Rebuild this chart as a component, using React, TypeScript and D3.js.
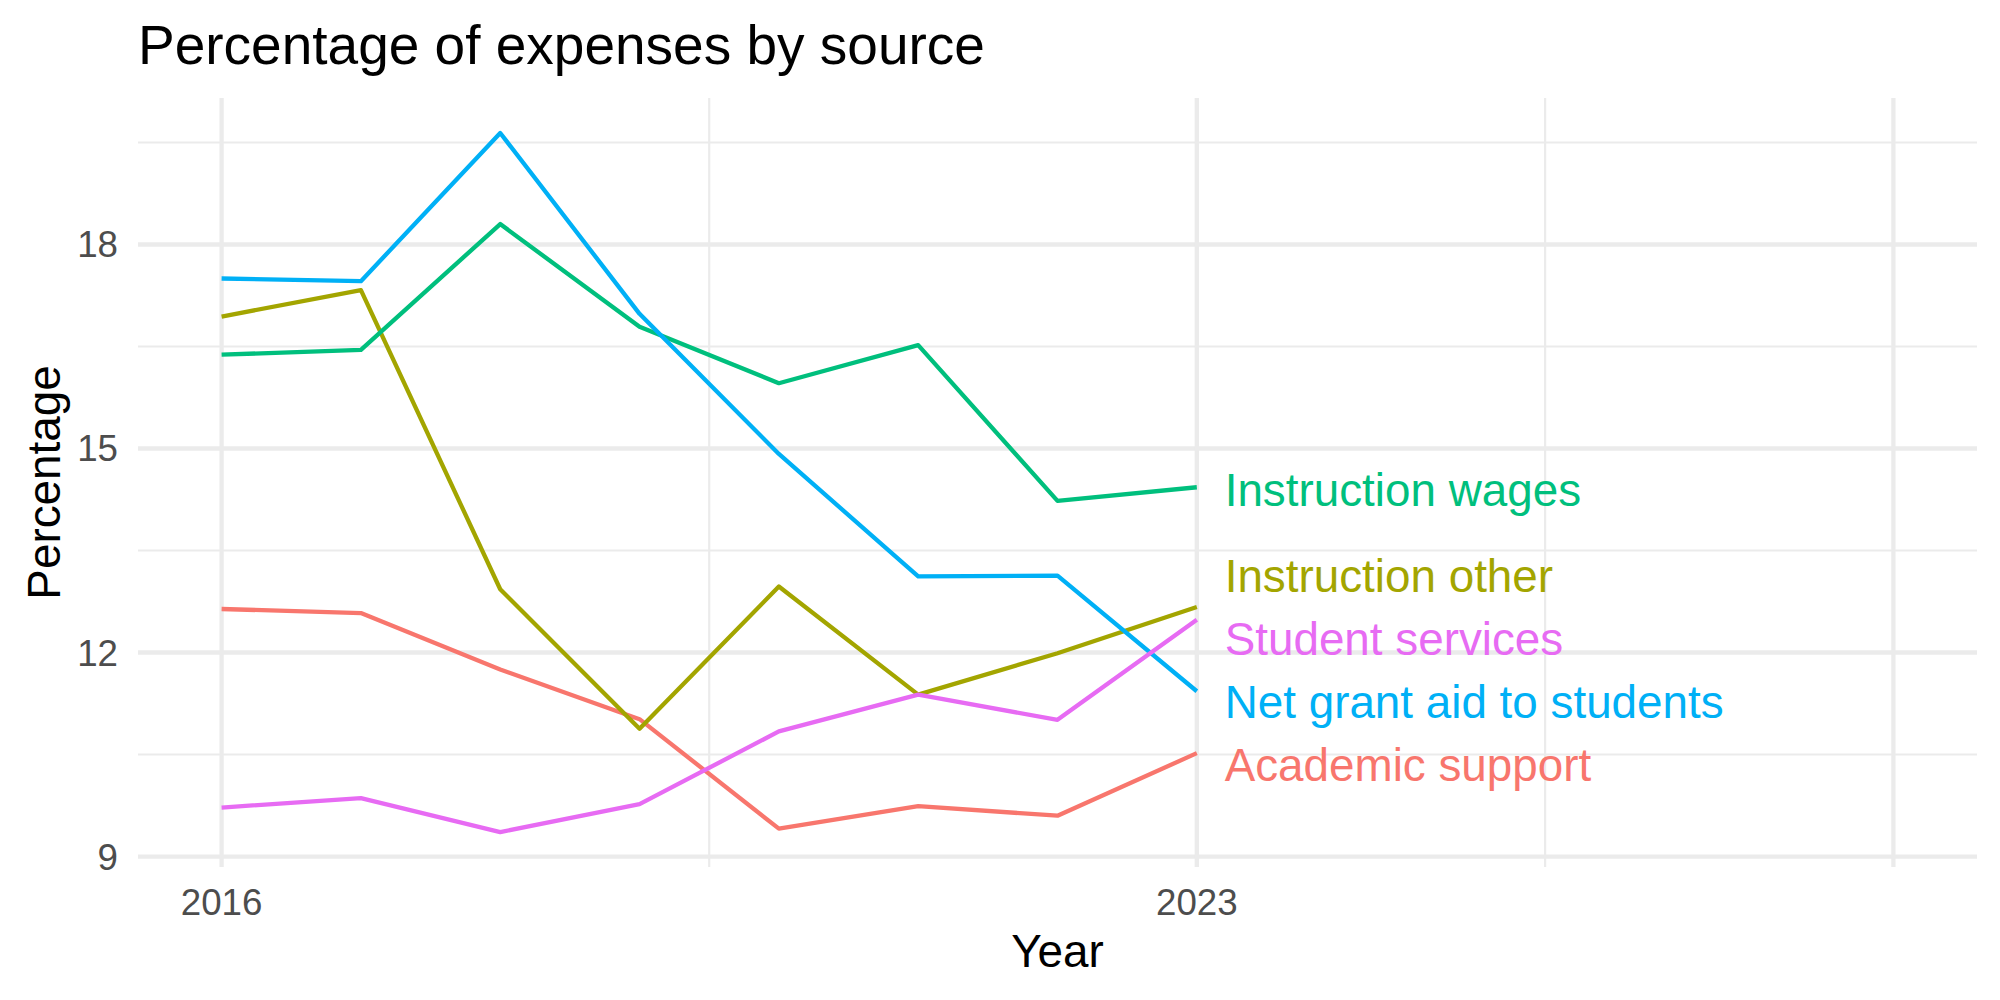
import React, { useRef, useEffect } from "react";
import * as d3 from "d3";

// years on the x axis
const years = [2016, 2017, 2018, 2019, 2020, 2021, 2022, 2023];

// series values (percent of expenses)
const academicSupport = [12.64, 12.58, 11.75, 11.02, 9.41, 9.74, 9.6, 10.52];
const instructionOther = [16.94, 17.33, 12.93, 10.88, 12.97, 11.38, 11.99, 12.67];
const instructionWages = [16.38, 16.45, 18.3, 16.79, 15.96, 16.52, 14.23, 14.43];
const netGrantAid = [17.5, 17.46, 19.64, 16.98, 14.92, 13.12, 13.13, 11.43];
const studentServices = [9.72, 9.86, 9.36, 9.77, 10.84, 11.38, 11.01, 12.48];

const seriesNames = [
  "Academic support",
  "Instruction other",
  "Instruction wages",
  "Net grant aid to students",
  "Student services",
];

// axis breaks
const xLimits = [2016, 2028];
const xBreaks = [2016, 2023, 2028];
const xLabels = ["2016", "2023", ""];
const xMinorBreaks = [2019.5, 2025.5];
const yBreaks = [9, 12, 15, 18];
const yMinorBreaks = [10.5, 13.5, 16.5, 19.5];

const App: React.FC = () => {
  const chartRef = useRef<SVGSVGElement | null>(null);

  useEffect(() => {
    if (!chartRef.current) return;
    d3.select(chartRef.current).selectAll("*").remove();

    const width = 2000;
    const height = 1000;
    const panel = { left: 138, right: 1977, top: 98, bottom: 867 };
    const font = "'Liberation Sans', Arial, Helvetica, sans-serif";

    const colors = ["#F8766D", "#A3A500", "#00BF7D", "#00B0F6", "#E76BF3"];
    const values = [
      academicSupport,
      instructionOther,
      instructionWages,
      netGrantAid,
      studentServices,
    ];
    const series = seriesNames.map((name, i) => ({
      name,
      color: colors[i],
      points: years.map((yr, j) => ({ year: yr, value: values[i][j] })),
    }));

    // ggplot-like 5% expansion
    const xPad = (xLimits[1] - xLimits[0]) * 0.05;
    const x = d3
      .scaleLinear()
      .domain([xLimits[0] - xPad, xLimits[1] + xPad])
      .range([panel.left, panel.right]);

    const allVals = values.flat();
    const yMin = d3.min(allVals)!;
    const yMax = d3.max(allVals)!;
    const yPad = (yMax - yMin) * 0.05;
    const y = d3
      .scaleLinear()
      .domain([yMin - yPad, yMax + yPad])
      .range([panel.bottom, panel.top]);

    const svg = d3
      .select(chartRef.current)
      .attr("width", width)
      .attr("height", height)
      .style("font-family", font);

    svg.append("rect").attr("width", width).attr("height", height).attr("fill", "#FFFFFF");

    const grid = svg.append("g");

    // minor gridlines
    grid
      .selectAll(".h-minor")
      .data(yMinorBreaks)
      .enter()
      .append("line")
      .attr("x1", panel.left)
      .attr("x2", panel.right)
      .attr("y1", (d) => y(d))
      .attr("y2", (d) => y(d))
      .attr("stroke", "#EBEBEB")
      .attr("stroke-width", 2.2);

    grid
      .selectAll(".v-minor")
      .data(xMinorBreaks)
      .enter()
      .append("line")
      .attr("x1", (d) => x(d))
      .attr("x2", (d) => x(d))
      .attr("y1", panel.top)
      .attr("y2", panel.bottom)
      .attr("stroke", "#EBEBEB")
      .attr("stroke-width", 2.2);

    // major gridlines
    grid
      .selectAll(".h-major")
      .data(yBreaks)
      .enter()
      .append("line")
      .attr("x1", panel.left)
      .attr("x2", panel.right)
      .attr("y1", (d) => y(d))
      .attr("y2", (d) => y(d))
      .attr("stroke", "#EBEBEB")
      .attr("stroke-width", 4.3);

    grid
      .selectAll(".v-major")
      .data(xBreaks)
      .enter()
      .append("line")
      .attr("x1", (d) => x(d))
      .attr("x2", (d) => x(d))
      .attr("y1", panel.top)
      .attr("y2", panel.bottom)
      .attr("stroke", "#EBEBEB")
      .attr("stroke-width", 4.3);

    // lines
    const line = d3
      .line<{ year: number; value: number }>()
      .x((d) => x(d.year))
      .y((d) => y(d.value));

    svg
      .selectAll(".series")
      .data(series)
      .enter()
      .append("path")
      .attr("d", (d) => line(d.points))
      .attr("fill", "none")
      .attr("stroke", (d) => d.color)
      .attr("stroke-width", 4.3)
      .attr("stroke-linejoin", "round");

    // end labels, pushed apart so they don't overlap
    const gap = 63;
    const items = series
      .map((s) => ({
        name: s.name,
        color: s.color,
        target: y(s.points[s.points.length - 1].value),
        pos: 0,
      }))
      .sort((a, b) => a.target - b.target);
    let clusters = items.map((it) => ({ members: [it], center: it.target }));
    let merged = true;
    while (merged) {
      merged = false;
      for (let i = 0; i < clusters.length - 1; i++) {
        const a = clusters[i];
        const b = clusters[i + 1];
        const aBottom = a.center + ((a.members.length - 1) / 2) * gap;
        const bTop = b.center - ((b.members.length - 1) / 2) * gap;
        if (bTop - aBottom < gap) {
          const members = a.members.concat(b.members);
          const center = d3.mean(members, (m) => m.target)!;
          clusters.splice(i, 2, { members, center });
          merged = true;
          break;
        }
      }
    }
    clusters.forEach((c) => {
      c.members.forEach((m, k) => {
        m.pos = c.center + (k - (c.members.length - 1) / 2) * gap;
      });
    });

    svg
      .selectAll(".end-label")
      .data(items)
      .enter()
      .append("text")
      .attr("x", x(years[years.length - 1] + 0.2))
      .attr("y", (d) => d.pos + 19)
      .attr("fill", (d) => d.color)
      .style("font-size", "45.8px")
      .text((d) => d.name);

    // y tick labels
    svg
      .selectAll(".y-tick")
      .data(yBreaks)
      .enter()
      .append("text")
      .attr("x", 118)
      .attr("y", (d) => y(d) + 13)
      .attr("text-anchor", "end")
      .attr("fill", "#4D4D4D")
      .style("font-size", "36.7px")
      .text((d) => d);

    // x tick labels
    svg
      .selectAll(".x-tick")
      .data(xBreaks)
      .enter()
      .append("text")
      .attr("x", (d) => x(d))
      .attr("y", 915)
      .attr("text-anchor", "middle")
      .attr("fill", "#4D4D4D")
      .style("font-size", "36.7px")
      .text((d, i) => xLabels[i]);

    // axis titles
    svg
      .append("text")
      .attr("x", (panel.left + panel.right) / 2)
      .attr("y", 967)
      .attr("text-anchor", "middle")
      .attr("fill", "#000000")
      .style("font-size", "45.8px")
      .text("Year");

    svg
      .append("text")
      .attr("transform", `translate(60,${(panel.top + panel.bottom) / 2}) rotate(-90)`)
      .attr("text-anchor", "middle")
      .attr("fill", "#000000")
      .style("font-size", "45.8px")
      .text("Percentage");

    // title
    svg
      .append("text")
      .attr("x", panel.left)
      .attr("y", 64)
      .attr("fill", "#000000")
      .style("font-size", "55px")
      .text("Percentage of expenses by source");
  }, []);

  return (
    <svg
      ref={chartRef}
      style={{ position: "absolute", left: 0, top: 0, display: "block" }}
    ></svg>
  );
};

export default App;
